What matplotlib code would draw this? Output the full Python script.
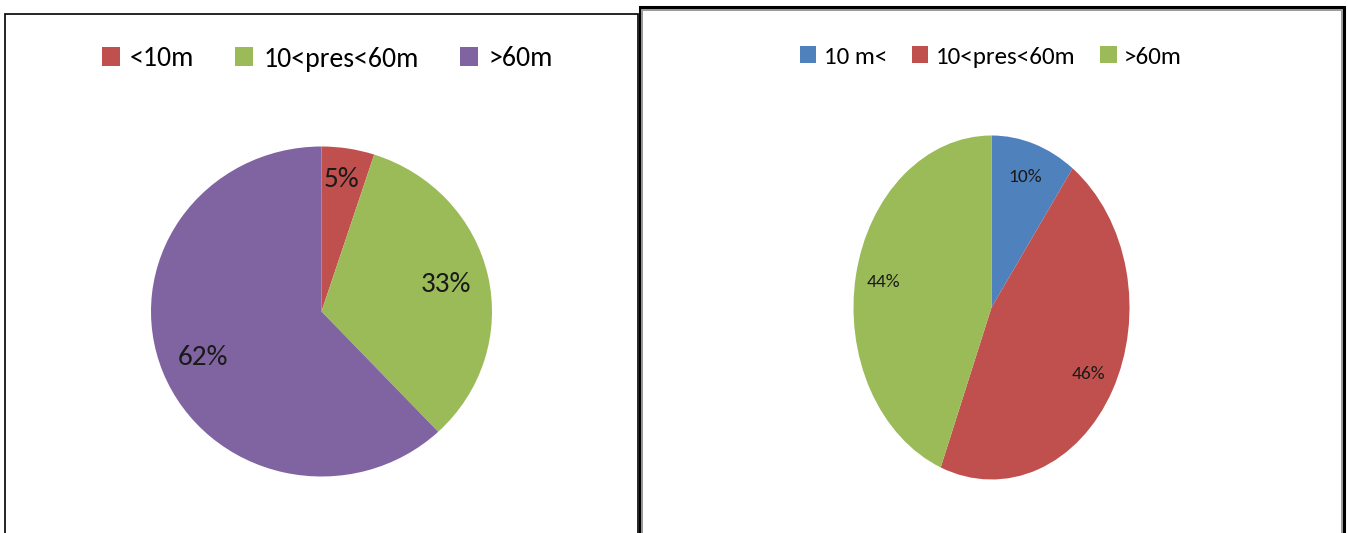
import matplotlib.pyplot as plt
from matplotlib.patches import Rectangle

W, H = 1348, 533

# left chart
left_labels = ['<10m', '10<pres<60m', '>60m']
left_values = [5, 33, 62]
left_colors = ['#C0504D', '#9BBB59', '#8064A2']

# right chart
right_labels = ['10 m<', '10<pres<60m', '>60m']
right_values = [10, 46, 44]
right_colors = ['#4F81BD', '#C0504D', '#9BBB59']

FONT = ['Carlito', 'Liberation Sans Narrow', 'Open Sans', 'DejaVu Sans']
plt.rcParams['font.family'] = FONT


def px_axes(fig, cx, cy, rx, ry):
    # axes box in pixel units (origin top-left) around an ellipse
    return fig.add_axes([(cx - rx) / W, 1 - (cy + ry) / H, 2 * rx / W, 2 * ry / H])


def px_rect(fig, x0, y0, x1, color, lw):
    # open-bottom frame from pixel corner (x0, y0) to right edge x1
    fig.patches.append(Rectangle((x0 / W, -0.1), (x1 - x0) / W, 1.1 - y0 / H,
                                 transform=fig.transFigure, fill=False,
                                 edgecolor=color, linewidth=lw))


def draw_pie(ax, values, colors, pctdist, fsize):
    wedges, _, autotexts = ax.pie(values, colors=colors, startangle=90,
                                  counterclock=False, autopct='%d%%', pctdistance=pctdist,
                                  radius=1.0, wedgeprops=dict(linewidth=0),
                                  textprops=dict(fontsize=fsize, color='#1a1a1a'))
    ax.set_aspect('auto')
    ax.set_xlim(-1, 1)
    ax.set_ylim(-1, 1)
    ax.axis('off')
    return wedges, autotexts


fig = plt.figure(figsize=(W / 100, H / 100), dpi=100)

# panel borders
px_rect(fig, 5, 14, 637.5, 'black', 1.2)
px_rect(fig, 639.5, 7.5, 1344, 'black', 2.2)
px_rect(fig, 642, 10, 1341.5, '#999999', 1.4)

ax1 = px_axes(fig, 321.5, 311.5, 170.5, 165)
w1, t1 = draw_pie(ax1, left_values, left_colors, 0.75, 21)
t1[0].set_position((0.12, 0.80))

ax2 = px_axes(fig, 991.5, 307.5, 138, 172)
w2, t2 = draw_pie(ax2, right_values, right_colors, 0.80, 14)

fig.legend(w1, left_labels, loc='center', bbox_to_anchor=(327 / W, 1 - 59 / H),
           ncol=3, frameon=False, fontsize=20, handlelength=0.65, handleheight=0.65,
           handletextpad=0.35, columnspacing=1.5)
fig.legend(w2, right_labels, loc='center', bbox_to_anchor=(991 / W, 1 - 57 / H),
           ncol=3, frameon=False, fontsize=18, handlelength=0.65, handleheight=0.65,
           handletextpad=0.3, columnspacing=1.0)

fig.savefig('out.png', dpi=100)
